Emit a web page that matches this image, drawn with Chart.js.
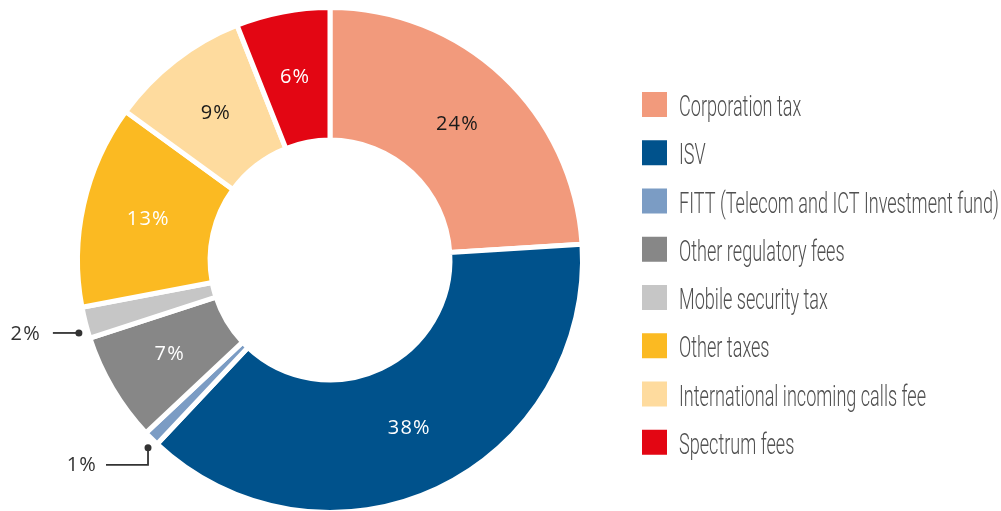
<!DOCTYPE html>
<html><head><meta charset="utf-8">
<script src="https://cdn.jsdelivr.net/npm/chart.js@4/dist/chart.umd.min.js"></script>
<style>
html,body{margin:0;padding:0;background:#fff;overflow:hidden;}
#wrap{position:relative;width:1001px;height:520px;}
</style></head><body>
<div id="wrap"><canvas id="c"></canvas></div>
<script>
const categories = ["Corporation tax","ISV","FITT (Telecom and ICT Investment fund)","Other regulatory fees","Mobile security tax","Other taxes","International incoming calls fee","Spectrum fees"];
const shares = [24, 38, 1, 7, 2, 13, 9, 6];
const sliceColors = ["#F29A7C","#00528C","#7B9CC4","#878787","#C6C6C6","#FBBA22","#FEDB9E","#E30613"];
const valueLabelColors = ["#1a1a1a","#ffffff","#ffffff","#ffffff","#333333","#ffffff","#1a1a1a","#ffffff"];
const labelOutside = [false, false, true, false, true, false, false, false];

const valueFont = '400 20px "Open Sans"';

const labelPlugin = {
  id: 'valueLabels',
  afterDatasetsDraw(chart) {
    const ctx = chart.ctx;
    const meta = chart.getDatasetMeta(0);
    ctx.save();
    ctx.font = valueFont;
    ctx.letterSpacing = '1.2px';
    ctx.textBaseline = 'middle';
    meta.data.forEach((arc, i) => {
      const text = shares[i] + '%';
      const p = arc.getProps(['x','y','startAngle','endAngle','innerRadius','outerRadius'], true);
      const mid = (p.startAngle + p.endAngle) / 2;
      if (!labelOutside[i]) {
        const r = (p.innerRadius + p.outerRadius) / 2;
        ctx.fillStyle = valueLabelColors[i];
        ctx.textAlign = 'center';
        ctx.fillText(text, p.x + Math.cos(mid) * r, p.y + Math.sin(mid) * r);
      } else {
        const a = p.startAngle + 0.25 * (p.endAngle - p.startAngle);
        const r = p.outerRadius + 9;
        const dx = p.x + Math.cos(a) * r, dy = p.y + Math.sin(a) * r;
        ctx.strokeStyle = '#333';
        ctx.fillStyle = '#333';
        ctx.lineWidth = 1.8;
        ctx.beginPath();
        ctx.arc(dx, dy, 3.5, 0, Math.PI * 2);
        ctx.fill();
        ctx.beginPath();
        let tx, ty;
        if (Math.sin(a) < 0.5) {
          ctx.moveTo(dx, dy);
          ctx.lineTo(dx - 26, dy);
          tx = dx - 38; ty = dy;
        } else {
          ctx.moveTo(dx, dy);
          ctx.lineTo(dx, dy + 17);
          ctx.lineTo(dx - 42, dy + 17);
          tx = dx - 51; ty = dy + 17;
        }
        ctx.stroke();
        ctx.textAlign = 'right';
        ctx.fillText(text, tx, ty + 1);
      }
    });
    ctx.restore();
  }
};

const legendPlugin = {
  id: 'sideLegend',
  afterDraw(chart) {
    const ctx = chart.ctx;
    ctx.save();
    ctx.font = '300 29.5px Roboto';
    const longest = categories.reduce((a, b) => ctx.measureText(b).width > ctx.measureText(a).width ? b : a);
    const sx = 320 / ctx.measureText(longest).width;
    const boxX = 642, box = 25, top0 = 92, step = 48.25, textX = 679;
    categories.forEach((name, i) => {
      const y = top0 + i * step;
      ctx.fillStyle = sliceColors[i];
      ctx.fillRect(boxX, y, box, box);
      ctx.save();
      ctx.translate(textX, y + box - 1);
      ctx.scale(sx, 1);
      ctx.fillStyle = '#505050';
      ctx.textAlign = 'left';
      ctx.textBaseline = 'alphabetic';
      ctx.fillText(name, 0, 0);
      ctx.restore();
    });
    ctx.restore();
  }
};

new Chart(document.getElementById('c'), {
  type: 'doughnut',
  data: {
    labels: categories,
    datasets: [{
      data: shares,
      backgroundColor: sliceColors,
      borderColor: '#ffffff',
      borderWidth: 5,
      hoverBorderWidth: 5,
      borderAlign: 'center'
    }]
  },
  options: {
    responsive: true,
    maintainAspectRatio: false,
    animation: false,
    cutout: '47.5%',
    layout: { padding: { left: 75, right: 416, top: 5, bottom: 5 } },
    plugins: { legend: { display: false }, tooltip: { enabled: false } },
    events: []
  },
  plugins: [labelPlugin, legendPlugin]
});
</script>
</body></html>
